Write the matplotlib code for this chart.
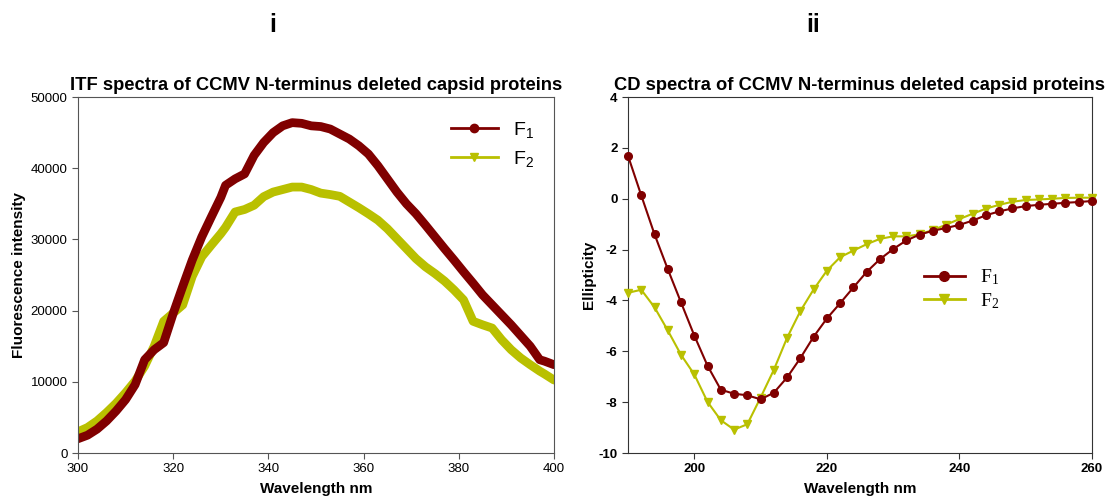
import matplotlib
matplotlib.use("Agg")
from matplotlib import pyplot as plt
from matplotlib.lines import Line2D

# ITF spectra (fluorescence intensity vs wavelength)
itf_wl = [300, 302, 304, 306, 308, 310, 312, 314, 316, 318, 320, 322, 324, 326, 328, 330,
          331, 333, 335, 337, 339, 341, 343, 345, 347, 349, 351, 353, 355, 357, 359, 361,
          363, 365, 367, 369, 371, 373, 375, 377, 379, 381, 383, 385, 387, 389, 391, 393,
          395, 397, 398, 400]
itf_f1 = [2000, 2500, 3350, 4500, 5900, 7500, 9600, 13100, 14500, 15500, 19600, 23400,
          27100, 30350, 33150, 35900, 37600, 38500, 39200, 41800, 43600, 45000, 45950, 46400,
          46300, 45950, 45850, 45500, 44800, 44100, 43150, 42000, 40350, 38500, 36650, 35000,
          33600, 32000, 30350, 28700, 27100, 25450, 23850, 22200, 20800, 19400, 18000, 16500,
          15000, 13100, 12900, 12400]
itf_f2 = [2980, 3580, 4500, 5680, 6980, 8470, 10100, 12200, 15000, 18500, 19650, 20800,
          24800, 27560, 29200, 30800, 31700, 33850, 34200, 34800, 36000, 36650, 37000, 37350,
          37350, 37000, 36500, 36300, 36050, 35250, 34450, 33600, 32700, 31500, 30100, 28700,
          27300, 26150, 25200, 24150, 22900, 21500, 18500, 18000, 17550, 15900, 14500, 13350,
          12400, 11500, 11100, 10250]

# CD spectra (ellipticity vs wavelength), every 2 nm from 190 to 260
cd_wl = list(range(190, 261, 2))
cd_f1 = [1.69, 0.13, -1.40, -2.77, -4.08, -5.38, -6.57, -7.51, -7.67, -7.73, -7.89, -7.63,
         -7.03, -6.27, -5.43, -4.71, -4.11, -3.49, -2.88, -2.38, -1.98, -1.64, -1.41, -1.26,
         -1.15, -1.03, -0.86, -0.65, -0.50, -0.38, -0.29, -0.24, -0.20, -0.16, -0.13, -0.09]
cd_f2 = [-3.70, -3.58, -4.27, -5.18, -6.14, -6.91, -7.99, -8.71, -9.08, -8.87, -7.82, -6.73,
         -5.47, -4.42, -3.57, -2.83, -2.30, -2.04, -1.79, -1.58, -1.48, -1.48, -1.40, -1.23,
         -1.02, -0.80, -0.59, -0.39, -0.24, -0.12, -0.05, -0.03, 0.00, 0.03, 0.04, 0.04]

red = '#800000'
yellow = '#B9C000'

plt.rcParams['font.family'] = ['Liberation Sans', 'DejaVu Sans']
plt.rcParams['axes.unicode_minus'] = False

W, H = 1109, 499
fig = plt.figure(figsize=(W / 100, H / 100), dpi=100)

def box(x0, y0, x1, y1):
    return [x0 / W, 1 - y1 / H, (x1 - x0) / W, (y1 - y0) / H]

# left panel: ITF
ax1 = fig.add_axes(box(78, 97, 554, 453))
ax1.plot(itf_wl, itf_f2, color=yellow, lw=6.3, solid_capstyle='round', solid_joinstyle='round')
ax1.plot(itf_wl, itf_f1, color=red, lw=6.3, solid_capstyle='round', solid_joinstyle='round')
ax1.set_xlim(300, 400)
ax1.set_ylim(0, 50000)
ax1.set_xticks([300, 320, 340, 360, 380, 400])
ax1.set_yticks(range(0, 50001, 10000))
ax1.tick_params(labelsize=9.5, length=4, color='#555555')
for s in ax1.spines.values():
    s.set_color('#555555')
ax1.set_title('ITF spectra of CCMV N-terminus deleted capsid proteins',
              fontsize=13.2, fontweight='bold', pad=5)
ax1.set_xlabel('Wavelength nm', fontsize=11, fontweight='bold', labelpad=5)
ax1.set_ylabel('Fluorescence intensity', fontsize=11, fontweight='bold', labelpad=3)
h1 = [Line2D([], [], color=red, lw=2, marker='o', ms=6),
      Line2D([], [], color=yellow, lw=2, marker='v', ms=6)]
ax1.legend(h1, [r'$\mathregular{F_1}$', r'$\mathregular{F_2}$'], loc='upper right',
           bbox_to_anchor=(0.995, 0.985), frameon=False, fontsize=14, handlelength=2.4,
           handletextpad=0.8, labelspacing=0.45)

# right panel: CD
ax2 = fig.add_axes(box(628, 97, 1092, 453))
ax2.plot(cd_wl, cd_f2, color=yellow, lw=1.5, marker='v', ms=6, clip_on=False, zorder=3)
ax2.plot(cd_wl, cd_f1, color=red, lw=1.5, marker='o', ms=5.5, clip_on=False, zorder=4)
ax2.set_xlim(190, 260)
ax2.set_ylim(-10, 4)
ax2.set_xticks([200, 220, 240, 260])
ax2.set_yticks(range(-10, 5, 2))
ax2.tick_params(labelsize=9.5, length=4, color='#333333')
for lab in ax2.get_xticklabels() + ax2.get_yticklabels():
    lab.set_fontweight('bold')
for s in ax2.spines.values():
    s.set_color('#333333')
ax2.set_title('CD spectra of CCMV N-terminus deleted capsid proteins',
              fontsize=13.2, fontweight='bold', pad=5)
ax2.set_xlabel('Wavelength nm', fontsize=11, fontweight='bold', labelpad=5)
ax2.set_ylabel('Ellipticity', fontsize=11, fontweight='bold', labelpad=2)
h2 = [Line2D([], [], color=red, lw=2, marker='o', ms=7),
      Line2D([], [], color=yellow, lw=2, marker='v', ms=7)]
ax2.legend(h2, [r'$\mathregular{F_1}$', r'$\mathregular{F_2}$'], loc='center left',
           bbox_to_anchor=(0.6, 0.46), frameon=False, handlelength=2.1,
           handletextpad=0.8, labelspacing=0.2,
           prop={'family': 'Liberation Serif', 'size': 14})

# panel letters
fig.text(273 / W, 1 - 25 / H, 'i', fontsize=18, fontweight='bold', ha='center', va='center')
fig.text(813 / W, 1 - 25 / H, 'ii', fontsize=18, fontweight='bold', ha='center', va='center')

fig.savefig('out.png', dpi=100)
